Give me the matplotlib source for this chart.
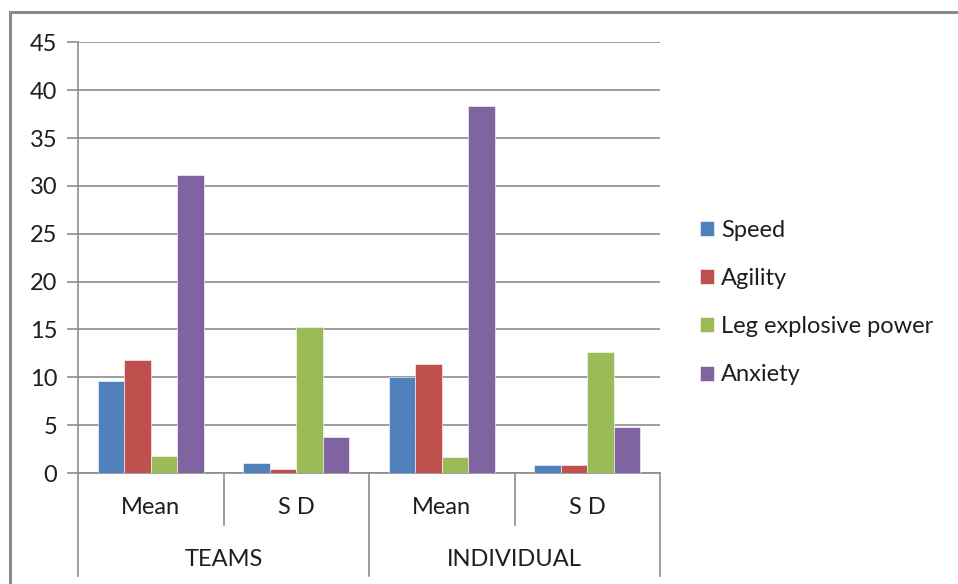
import matplotlib
matplotlib.use("Agg")
import matplotlib.pyplot as plt
from matplotlib.lines import Line2D
from matplotlib.patches import Rectangle
import numpy as np

plt.rcParams['font.family'] = ['Lato', 'DejaVu Sans']

groups = ["TEAMS", "INDIVIDUAL"]
stats = ["Mean", "S D"]
series = ["Speed", "Agility", "Leg explosive power", "Anxiety"]
speed = [9.6, 1.0, 10.0, 0.8]
agility = [11.8, 0.4, 11.4, 0.8]
leg_power = [1.8, 15.3, 1.7, 12.6]
anxiety = [31.1, 3.8, 38.3, 4.8]
colors = ["#4F81BD", "#C0504D", "#9BBB59", "#8064A2"]
yticks = [0, 5, 10, 15, 20, 25, 30, 35, 40, 45]

W, H = 958, 584
FS = 17
TXT = "#1e1e1e"
fig = plt.figure(figsize=(W / 100, H / 100), dpi=100)
ax = fig.add_axes([78 / W, 1 - 473 / H, (660 - 78) / W, (473 - 42.3) / H])

values = [speed, agility, leg_power, anxiety]
n_cat = len(groups) * len(stats)
x = np.arange(n_cat) + 0.5
bw = 0.182
for i, (name, vals, c) in enumerate(zip(series, values, colors)):
    ax.bar(x + (i - 1.5) * bw, vals, width=bw, color=c, label=name,
           edgecolor="white", linewidth=0.4, zorder=3)

grid_c = "#8c8c8c"
ax.set_xlim(0, n_cat)
ax.set_ylim(0, 45)
ax.set_yticks(yticks)
ax.set_yticklabels([str(t) for t in yticks], fontsize=FS, color=TXT)
ax.tick_params(axis="y", length=8, width=1.2, color=grid_c, pad=7)
ax.set_xticks([])
ax.yaxis.grid(True, color=grid_c, linewidth=1.2, zorder=0)
for side in ["top", "right"]:
    ax.spines[side].set_visible(False)
for side in ["left", "bottom"]:
    ax.spines[side].set_color(grid_c)
    ax.spines[side].set_linewidth(1.2)

# Category separators and labels below the axis
trans = ax.get_xaxis_transform()
span = 473 - 42.3
y_inner = -(525 - 473) / span
y_outer = -(576 - 473) / span
for k in range(n_cat + 1):
    yb = y_outer if k % 2 == 0 else y_inner
    ax.add_line(Line2D([k, k], [0, yb], transform=trans, color=grid_c,
                       linewidth=1.2, clip_on=False))
for k in range(n_cat):
    ax.text(k + 0.5, -(507 - 473) / span, stats[k % 2], transform=trans,
            ha="center", va="center", fontsize=FS, color=TXT)
for g, name in enumerate(groups):
    ax.text(2 * g + 1, -(559 - 473) / span, name, transform=trans,
            ha="center", va="center", fontsize=FS, color=TXT)

leg = fig.legend(loc="upper left", bbox_to_anchor=(700 / W, 1 - 220 / H),
                 frameon=False, fontsize=FS, handlelength=0.6, handleheight=0.6,
                 handletextpad=0.3, labelspacing=1.15, borderaxespad=0,
                 borderpad=0, labelcolor=TXT)

# Chart frame
fig.add_artist(Rectangle((9.5 / W, -0.1), 1.1, 1 - 12 / H + 0.1,
                         transform=fig.transFigure, fill=False,
                         edgecolor="#8a8a8a", linewidth=2.2))

fig.savefig("out.png", dpi=100)
